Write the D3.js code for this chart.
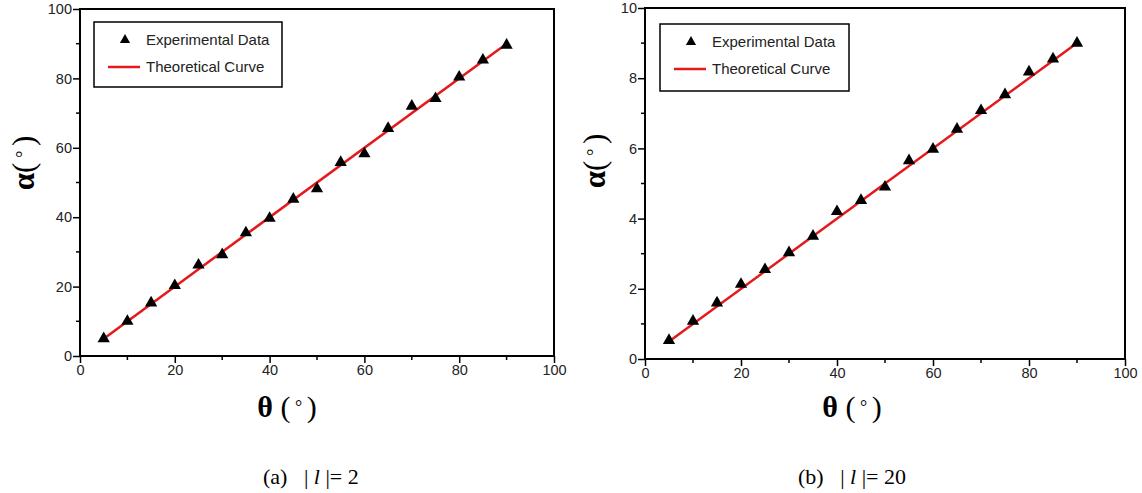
<!DOCTYPE html>
<meta charset="utf-8">
<style>
    body { margin: 0; background: #fff; }
    .tick text { font-family: "Liberation Sans", Arial, sans-serif; font-size: 14.5px; fill: #222; }
    .legend text { font-family: "Liberation Sans", Arial, sans-serif; font-size: 15px; fill: #222; }
    .serif { font-family: "Liberation Serif", "Times New Roman", serif; fill: #000; white-space: pre; }
</style>
<body>
<svg width="1142" height="493"></svg>
<script src="https://d3js.org/d3.v7.min.js"></script>
<script>
    // measured angles (deg)
    const theta = [5, 10, 15, 20, 25, 30, 35, 40, 45, 50, 55, 60, 65, 70, 75, 80, 85, 90];
    const alphaL2 = [5, 10, 15.3, 20.3, 26.2, 29.2, 35.5, 39.7, 45.2, 48.2, 55.8, 58.3, 65.6, 72, 74.2, 80.4, 85.3, 89.6];
    const alphaL20 = [0.53, 1.08, 1.6, 2.13, 2.55, 3.03, 3.5, 4.2, 4.52, 4.9, 5.65, 5.98, 6.55, 7.08, 7.53, 8.18, 8.55, 9.0];

    // theoretical curve end points
    const thetaTheory = [5, 90];
    const alphaTheoryL2 = [5, 90];
    const alphaTheoryL20 = [0.5, 9];

    const xTicks = [0, 20, 40, 60, 80, 100];
    const yTicksL2 = [0, 20, 40, 60, 80, 100];
    const yTicksL20 = [0, 2, 4, 6, 8, 10];

    const svg = d3.select("svg");

    function degLabel(sel, sym, gap) {
        sel.append("tspan").attr("font-weight", "bold").text(sym);
        sel.append("tspan").text(gap + "(");
        sel.append("tspan").attr("font-size", "0.6em").attr("dy", "-0.25em").text(" ° ");
        sel.append("tspan").attr("dy", "0.15em").text(")");
    }

    function panel(opt) {
        const x = d3.scaleLinear().domain([0, 100]).range([opt.x0, opt.x1]);
        const y = d3.scaleLinear().domain([0, opt.ymax]).range([opt.y1, opt.y0]);
        const g = svg.append("g");

        // minor ticks
        const minorX = d3.range(10, 100, 20);
        const minorY = d3.range(opt.ymax / 10, opt.ymax, opt.ymax / 5);
        g.append("g").selectAll("line").data(minorX).join("line")
            .attr("x1", d => x(d)).attr("x2", d => x(d))
            .attr("y1", opt.y1).attr("y2", opt.y1 + 4)
            .attr("stroke", "#000").attr("stroke-width", 1.5);
        g.append("g").selectAll("line").data(minorY).join("line")
            .attr("y1", d => y(d)).attr("y2", d => y(d))
            .attr("x1", opt.x0).attr("x2", opt.x0 - 4)
            .attr("stroke", "#000").attr("stroke-width", 1.5);

        const xAxis = g.append("g")
            .attr("transform", "translate(0," + opt.y1 + ")")
            .call(d3.axisBottom(x).tickValues(xTicks).tickSize(7).tickPadding(2).tickSizeOuter(0));
        const yAxis = g.append("g")
            .attr("transform", "translate(" + opt.x0 + ",0)")
            .call(d3.axisLeft(y).tickValues(opt.yTicks).tickSize(7).tickPadding(1).tickSizeOuter(0));
        [xAxis, yAxis].forEach(a => {
            a.select(".domain").remove();
            a.selectAll(".tick line").attr("stroke", "#000").attr("stroke-width", 1.5);
        });

        // frame
        g.append("rect")
            .attr("x", opt.x0).attr("y", opt.y0)
            .attr("width", opt.x1 - opt.x0).attr("height", opt.y1 - opt.y0)
            .attr("fill", "none").attr("stroke", "#000").attr("stroke-width", 2);

        // theory line
        const line = d3.line().x(d => x(d[0])).y(d => y(d[1]));
        g.append("path")
            .datum(d3.zip(thetaTheory, opt.theory))
            .attr("d", line)
            .attr("fill", "none").attr("stroke", "#e3191c").attr("stroke-width", 2.5);

        // data points
        const tri = d3.symbol().type(d3.symbolTriangle).size(65);
        g.append("g").selectAll("path").data(d3.zip(theta, opt.data)).join("path")
            .attr("d", tri)
            .attr("transform", d => "translate(" + x(d[0]) + "," + y(d[1]) + ")")
            .attr("fill", "#000");

        // legend
        const lg = g.append("g").attr("class", "legend");
        lg.append("rect")
            .attr("x", opt.lx).attr("y", opt.ly)
            .attr("width", opt.lw).attr("height", opt.lh)
            .attr("fill", "#fff").attr("stroke", "#000").attr("stroke-width", 1.5);
        lg.append("path").attr("d", d3.symbol().type(d3.symbolTriangle).size(45))
            .attr("transform", "translate(" + (opt.lx + 31) + "," + (opt.ly + 18) + ")");
        lg.append("line")
            .attr("x1", opt.lx + 14).attr("x2", opt.lx + 46)
            .attr("y1", opt.ly + 45).attr("y2", opt.ly + 45)
            .attr("stroke", "#e3191c").attr("stroke-width", 2.5);
        lg.append("text").attr("x", opt.lx + 52).attr("y", opt.ly + 23).text("Experimental Data");
        lg.append("text").attr("x", opt.lx + 52).attr("y", opt.ly + 50).text("Theoretical Curve");

        // axis titles
        const ya = svg.append("text").attr("class", "serif")
            .attr("transform", "translate(" + opt.ayX + "," + opt.ayY + ") rotate(-90)")
            .attr("text-anchor", "middle")
            .attr("font-size", 31);
        degLabel(ya, "α", "");
        const xa = svg.append("text").attr("class", "serif")
            .attr("x", opt.x0 + 207).attr("y", 417)
            .attr("text-anchor", "middle")
            .attr("font-size", 30);
        degLabel(xa, "θ", " ");

        // caption
        const cap = svg.append("text").attr("class", "serif")
            .attr("x", opt.capX).attr("y", 484)
            .attr("font-size", 22);
        cap.append("tspan").text(opt.cap + "   | ");
        cap.append("tspan").attr("font-style", "italic").text("l");
        cap.append("tspan").text(" |= " + opt.capVal);
    }

    panel({
        x0: 80, x1: 554, y0: 9, y1: 356, ymax: 100, yTicks: yTicksL2,
        data: alphaL2, theory: alphaTheoryL2,
        lx: 94, ly: 22, lw: 188, lh: 65,
        ayX: 34, ayY: 163,
        cap: "(a)", capVal: "2", capX: 263
    });
    panel({
        x0: 645, x1: 1125, y0: 8, y1: 359, ymax: 10, yTicks: yTicksL20,
        data: alphaL20, theory: alphaTheoryL20,
        lx: 660, ly: 24, lw: 189, lh: 67,
        ayX: 605, ayY: 161,
        cap: "(b)", capVal: "20", capX: 798
    });
</script>
</body>
